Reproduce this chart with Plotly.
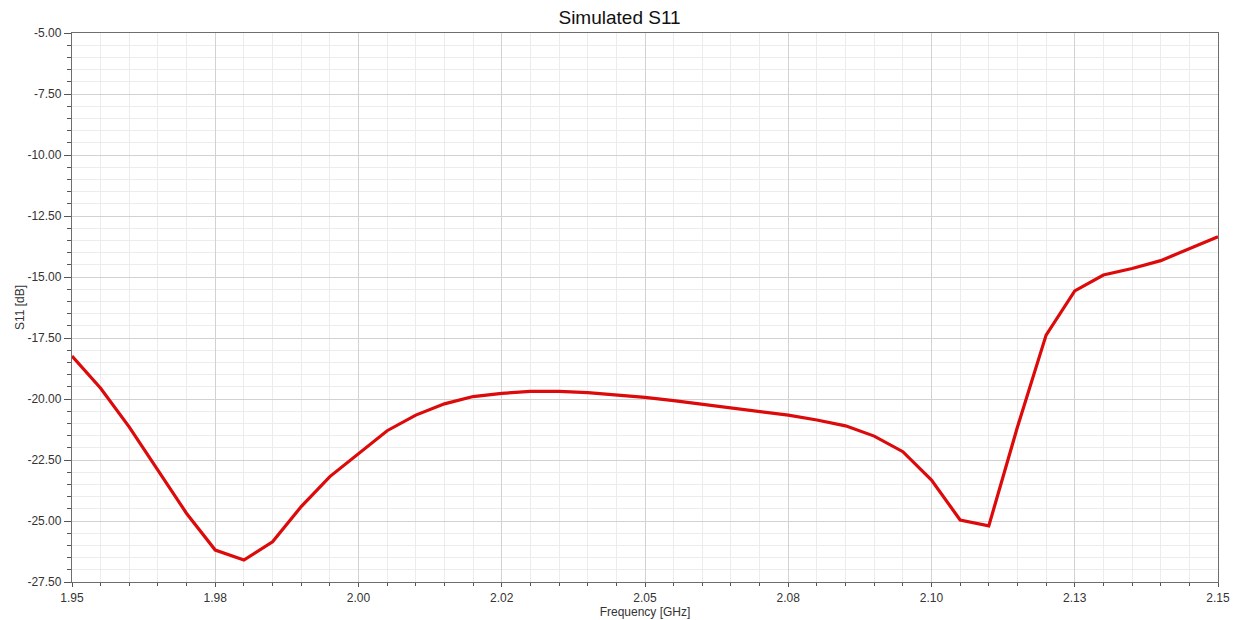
import plotly.graph_objects as go

freq_ghz = [1.950, 1.955, 1.960, 1.965, 1.970, 1.975, 1.980, 1.985, 1.990, 1.995,
            2.000, 2.005, 2.010, 2.015, 2.020, 2.025, 2.030, 2.035, 2.040, 2.045,
            2.050, 2.055, 2.060, 2.065, 2.070, 2.075, 2.080, 2.085, 2.090, 2.095,
            2.100, 2.105, 2.110, 2.115, 2.120, 2.125, 2.130, 2.135, 2.140, 2.145,
            2.150]
s11_db = [-18.24, -19.56, -21.15, -22.90, -24.69, -26.19, -26.60, -25.85, -24.41, -23.18,
          -22.22, -21.30, -20.66, -20.20, -19.90, -19.77, -19.69, -19.69, -19.74, -19.82,
          -19.93, -20.07, -20.22, -20.37, -20.49, -20.66, -20.86, -21.10, -21.52, -22.16,
          -23.32, -24.96, -25.20, -21.15, -17.38, -15.57, -14.92, -14.65, -14.33, -13.83,
          -13.35]

x_tick_vals = [1.95, 1.975, 2.0, 2.025, 2.05, 2.075, 2.1, 2.125, 2.15]
x_tick_text = ["1.95", "1.98", "2.00", "2.02", "2.05", "2.08", "2.10", "2.13", "2.15"]
y_tick_vals = [-27.5, -25.0, -22.5, -20.0, -17.5, -15.0, -12.5, -10.0, -7.5, -5.0]
y_tick_text = ["-27.50", "-25.00", "-22.50", "-20.00", "-17.50", "-15.00", "-12.50",
               "-10.00", "-7.50", "-5.00"]

FONT = "Liberation Sans, Arial, sans-serif"
TXT = "#333333"

fig = go.Figure()
fig.add_trace(go.Scatter(
    x=freq_ghz, y=s11_db, mode="lines",
    line=dict(color="#dc0a0a", width=3.2),
    showlegend=False,
))

axis_common = dict(
    showline=True, linecolor="#6e6e6e", linewidth=1.3, mirror=True,
    showgrid=True, gridcolor="#d2d2d2", gridwidth=1,
    ticks="outside", tickcolor="#555555", tickwidth=1,
    tickfont=dict(family=FONT, size=12, color=TXT),
    zeroline=False, automargin=False,
)

fig.update_xaxes(
    range=[1.95, 2.15], tickvals=x_tick_vals, ticktext=x_tick_text,
    ticklen=4, ticklabelstandoff=0,
    title=dict(text="Frequency [GHz]", font=dict(family=FONT, size=12, color=TXT), standoff=0),
    minor=dict(dtick=0.005, tick0=1.95, showgrid=True, gridcolor="#ececec",
               ticks="outside", ticklen=3, tickcolor="#555555"),
    **axis_common,
)
fig.update_yaxes(
    range=[-27.5, -5.0], tickvals=y_tick_vals, ticktext=y_tick_text,
    ticklen=7,
    title=dict(text="S11 [dB]", font=dict(family=FONT, size=12, color=TXT), standoff=0),
    minor=dict(dtick=0.5, tick0=-27.5, showgrid=True, gridcolor="#ececec",
               ticks="outside", ticklen=4, tickcolor="#555555"),
    **axis_common,
)

fig.update_layout(
    width=1243, height=620,
    margin=dict(l=64, r=33, t=25, b=46),
    paper_bgcolor="white", plot_bgcolor="white",
    title=dict(text="Simulated S11", x=0.492, xanchor="center", xref="container",
               y=0.995, yref="container", yanchor="top",
               font=dict(family=FONT, size=19, color="#111111")),
    font=dict(family=FONT),
)

fig.write_html("out.html")
